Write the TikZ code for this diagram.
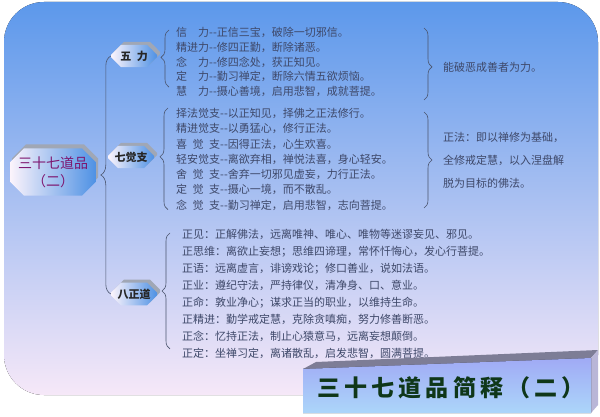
\documentclass[tikz,border=0pt]{standalone}
\usepackage{fontspec}
\newfontfamily\cjk{Noto Sans CJK SC}
\usepackage{tikz}
\usetikzlibrary{shapes.misc, positioning, calc, decorations.pathreplacing, shadows}
\definecolor{bgtop}{RGB}{92, 152, 235}
\definecolor{bgmid}{RGB}{160, 202, 247}
\definecolor{bgbot}{RGB}{246, 232, 248}
\definecolor{nodewhite}{RGB}{252, 244, 252}
\definecolor{nodeblue}{RGB}{78, 145, 228}
\definecolor{shadowgray}{RGB}{120, 130, 150}
\definecolor{textgray}{RGB}{62, 72, 105}
\definecolor{bracegray}{RGB}{75, 85, 110}
\definecolor{rootpurple}{RGB}{125, 20, 110}
\definecolor{titlegreen}{RGB}{15, 55, 25}
\definecolor{titletop}{RGB}{160, 170, 245}
\definecolor{titlemid}{RGB}{180, 125, 242}
\definecolor{titlebot}{RGB}{172, 214, 250}
\definecolor{boxtop}{RGB}{125, 125, 150}
\definecolor{boxside}{RGB}{185, 182, 215}

\tikzset{
  rootbox/.style={chamfered rectangle, chamfered rectangle xsep=7pt, chamfered rectangle ysep=7pt,
    left color=nodewhite, right color=nodeblue, draw=none, inner sep=1pt,
    minimum width=76pt, minimum height=34pt, align=center, text=rootpurple,
    font=\cjk\fontsize{14}{18}\selectfont,
    general shadow={shadow xshift=2pt, shadow yshift=4pt, fill=shadowgray!70}},
  branchbox/.style={chamfered rectangle, chamfered rectangle xsep=5pt, chamfered rectangle ysep=5pt,
    left color=nodewhite, right color=nodeblue, draw=none, inner sep=1pt,
    minimum width=46pt, minimum height=22pt, text=black!85,
    font=\cjk\bfseries\fontsize{11}{13}\selectfont,
    general shadow={shadow xshift=3pt, shadow yshift=3pt, fill=shadowgray!70}},
  grouptext/.style={anchor=north west, inner sep=0pt, align=left, text=textgray},
  notetext/.style={anchor=west, inner sep=0pt, align=left, text=textgray},
  curly/.style={decorate, decoration={brace, amplitude=8pt}, draw=bracegray, line width=0.6pt},
}

\begin{document}
\begin{tikzpicture}[x=1pt, y=-1pt]
  \useasboundingbox (0,0) rectangle (600,417);
  \fill[white] (0,0) rectangle (600,417);
  \fill[top color=bgtop, middle color=bgmid, bottom color=bgbot, rounded corners=40pt] (4,2) rectangle (598,395);

  % root and the three branches
  \node[rootbox] (root) at (53,172) {三十七道品\\（二）};
  \node[branchbox] (wuli) at (134,56) {五\enspace 力};
  \node[branchbox] (qijue) at (131,157) {七觉支};
  \node[branchbox] (bazheng) at (134,294) {八正道};
  \draw[curly, decoration={amplitude=10pt, aspect=0.5}] (bazheng.west) -- (wuli.west);

  % 五力
  \node[grouptext, font=\cjk\fontsize{11}{14.8}\selectfont] (wulitext) at (176,27) {
    信　力--正信三宝，破除一切邪信。\\
    精进力--修四正勤，断除诸恶。\\
    念　力--修四念处，获正知见。\\
    定　力--勤习禅定，断除六情五欲烦恼。\\
    慧　力--摄心善境，启用悲智，成就菩提。};
  \node[notetext, font=\cjk\fontsize{11}{12}\selectfont] (wulinote) at (443,67) {能破恶成善者为力。};
  \draw[curly, decoration={aspect=0.52}] ($(wulitext.south west)+(-7,-10)$) -- ($(wulitext.north west)+(-7,3)$);
  \draw[curly, decoration={aspect=0.54}] ($(wulinote.west)+(-19,-39)$) -- ($(wulinote.west)+(-19,33)$);

  % 七觉支
  \node[grouptext, font=\cjk\fontsize{11}{15.3}\selectfont] (qijuetext) at (176,108) {
    择法觉支--以正知见，择佛之正法修行。\\
    精进觉支--以勇猛心，修行正法。\\
    喜\enspace 觉\enspace 支--因得正法，心生欢喜。\\
    轻安觉支--离欲弃相，禅悦法喜，身心轻安。\\
    舍\enspace 觉\enspace 支--舍弃一切邪见虚妄，力行正法。\\
    定\enspace 觉\enspace 支--摄心一境，而不散乱。\\
    念\enspace 觉\enspace 支--勤习禅定，启用悲智，志向菩提。};
  \node[notetext, font=\cjk\fontsize{11}{23}\selectfont] (qijuenote) at (443,160) {
    正法：即以禅修为基础，\\
    全修戒定慧，以入涅盘解\\
    脱为目标的佛法。};
  \draw[curly, decoration={aspect=0.52}] ($(qijuetext.south west)+(-8,-1)$) -- ($(qijuetext.north west)+(-8,0)$);
  \draw[curly, decoration={aspect=0.5}] ($(qijuenote.west)+(-19,-48)$) -- ($(qijuenote.west)+(-19,48)$);

  % 八正道
  \node[grouptext, font=\cjk\fontsize{11}{17}\selectfont] (bazhengtext) at (182,229) {
    正见：正解佛法，远离唯神、唯心、唯物等迷谬妄见、邪见。\\
    正思维：离欲止妄想；思维四谛理，常怀忏悔心，发心行菩提。\\
    正语：远离虚言，诽谤戏论；修口善业，说如法语。\\
    正业：遵纪守法，严持律仪，清净身、口、意业。\\
    正命：敦业净心；谋求正当的职业，以维持生命。\\
    正精进：勤学戒定慧，克除贪嗔痴，努力修善断恶。\\
    正念：忆持正法，制止心猿意马，远离妄想颠倒。\\
    正定：坐禅习定，离诸散乱，启发悲智，圆满菩提。};
  \draw[curly, decoration={aspect=0.5}] ($(bazhengtext.south west)+(-12,-10)$) -- ($(bazhengtext.north west)+(-12,4)$);

  % title box
  \fill[boxtop] (303,369) -- (316,362) -- (598,350) -- (591,358) -- cycle;
  \fill[boxside] (591,358) -- (598,350) -- (598,405) -- (591,413) -- cycle;
  \fill[top color=titletop, middle color=titlemid, bottom color=titlebot] (303,369) -- (591,358) -- (591,413) -- (303,413) -- cycle;
  \node[text=titlegreen, font=\cjk\bfseries\fontsize{23}{25}\selectfont\addfontfeature{LetterSpace=18}] (title) at (451,388) {三十七道品简释（二）};
\end{tikzpicture}
\end{document}
